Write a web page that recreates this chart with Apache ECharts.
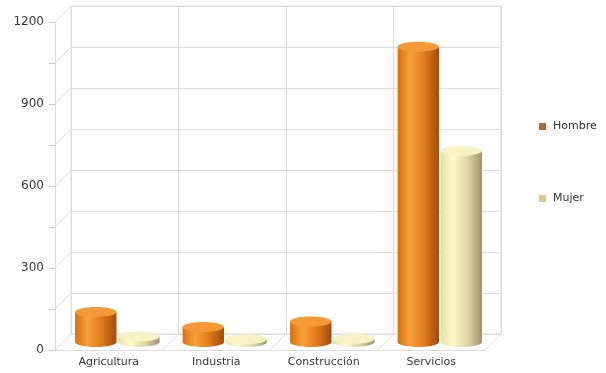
<!DOCTYPE html>
<html><head><meta charset="utf-8">
<script src="https://cdn.jsdelivr.net/npm/echarts@6/dist/echarts.min.js"></script>
<style>html,body{margin:0;padding:0;background:#fff}#c{width:606px;height:373px}</style>
</head><body><div id="c"></div>
<script>
const categories = ['Agricultura', 'Industria', 'Construcción', 'Servicios'];
const hombre = [110, 55, 75, 1080];
const mujer = [20, 10, 12, 700];
const yTickLabels = [0, 300, 600, 900, 1200];
const seriesNames = ['Hombre', 'Mujer'];

const W = 430, H = 328;
const front = {left: 55, top: 22};
const back = {left: 71, top: 6};
const mid = {left: 63, top: 14};
const DX = back.left - front.left, DY = back.top - front.top;
const LINE = '#dddddd';
const YMAX = 1200, YSTEP = 150;

const chart = echarts.init(document.getElementById('c'), null, {renderer: 'canvas'});

function cylinder(offsetFrac, stops, topFill) {
  return function (params, api) {
    const i = api.value(0), v = api.value(1);
    const base = api.coord([i, 0]);
    const top = api.coord([i, v]);
    const band = api.size([1, 0])[0];
    const w = band * 0.385, rx = w / 2, ry = 5;
    const cx = base[0] + offsetFrac * band;
    const grad = new echarts.graphic.LinearGradient(0, 0, 1, 0, stops);
    return {type: 'group', children: [
      {type: 'ellipse', shape: {cx: cx, cy: base[1], rx: rx, ry: ry}, style: {fill: grad}},
      {type: 'rect', shape: {x: cx - rx, y: top[1], width: w, height: base[1] - top[1]}, style: {fill: grad}},
      {type: 'ellipse', shape: {cx: cx, cy: top[1], rx: rx, ry: ry}, style: {fill: topFill}}
    ]};
  };
}

function frame(params, api) {
  const cs = params.coordSys;
  const children = [];
  for (let v = 0; v <= YMAX; v += YSTEP) {
    const p = api.coord([0, v]);
    children.push({type: 'line', shape: {x1: cs.x, y1: p[1], x2: cs.x + DX, y2: p[1] + DY}, style: {stroke: LINE, lineWidth: 1}});
  }
  const band = api.size([1, 0])[0];
  const yb = api.coord([0, 0])[1];
  for (let k = 0; k <= categories.length; k++) {
    const x = cs.x + k * band;
    children.push({type: 'line', shape: {x1: x, y1: yb, x2: x + DX, y2: yb + DY}, style: {stroke: LINE, lineWidth: 1}});
  }
  return {type: 'group', children: children};
}

const hombreStops = [
  {offset: 0, color: '#d8700f'}, {offset: 0.3, color: '#f7a03a'},
  {offset: 0.6, color: '#e67f1e'}, {offset: 1, color: '#a24b0b'}];
const mujerStops = [
  {offset: 0, color: '#e7e2a2'}, {offset: 0.3, color: '#fcf9cc'},
  {offset: 0.65, color: '#e0d6a4'}, {offset: 1, color: '#a09170'}];

const option = {
  animation: false,
  backgroundColor: '#ffffff',
  legend: {
    orient: 'vertical', left: 539, top: 121, itemGap: 61, padding: 0,
    itemWidth: 7, itemHeight: 7, icon: 'rect',
    textStyle: {fontSize: 11, color: '#333', fontFamily: 'DejaVu Sans', padding: [0, 0, 0, 2]},
    data: [{name: seriesNames[0], itemStyle: {color: '#b9622b'}}, {name: seriesNames[1], itemStyle: {color: '#d8c98c'}}]
  },
  grid: [
    {left: back.left, top: back.top, width: W, height: H, show: true, borderColor: LINE, borderWidth: 1, backgroundColor: 'transparent'},
    {left: front.left, top: front.top, width: W, height: H},
    {left: mid.left, top: mid.top, width: W, height: H}
  ],
  xAxis: [
    {type: 'category', gridIndex: 0, data: categories, axisLine: {show: false}, axisTick: {show: false}, axisLabel: {show: false},
      splitLine: {show: true, lineStyle: {color: LINE}}},
    {type: 'category', gridIndex: 1, data: categories, axisLine: {show: true, lineStyle: {color: LINE}}, axisTick: {show: false},
      axisLabel: {fontSize: 11, color: '#3a3a3a', fontFamily: 'DejaVu Sans', margin: 7}},
    {type: 'category', gridIndex: 2, data: categories, show: false}
  ],
  yAxis: [
    {type: 'value', gridIndex: 0, min: 0, max: YMAX, interval: YSTEP, axisLine: {show: false}, axisTick: {show: false}, axisLabel: {show: false},
      splitLine: {show: true, lineStyle: {color: LINE}}},
    {type: 'value', gridIndex: 1, min: 0, max: YMAX, interval: YSTEP, splitLine: {show: false},
      axisLine: {show: true, lineStyle: {color: LINE}}, axisTick: {show: true, length: 6, lineStyle: {color: '#cccccc'}},
      axisLabel: {fontSize: 12, color: '#3a3a3a', fontFamily: 'DejaVu Sans', margin: 11,
        formatter: function (v) { return yTickLabels.indexOf(v) >= 0 ? String(v) : ''; }}},
    {type: 'value', gridIndex: 2, min: 0, max: YMAX, show: false}
  ],
  series: [
    {type: 'custom', name: 'frame', xAxisIndex: 1, yAxisIndex: 1, data: [[0, 0]], renderItem: frame, silent: true, z: 1},
    {type: 'custom', name: seriesNames[0], xAxisIndex: 2, yAxisIndex: 2, itemStyle: {color: '#b9622b'},
      data: categories.map((c, i) => [i, hombre[i]]), encode: {x: 0, y: 1},
      renderItem: cylinder(-0.195, hombreStops, '#f39a36'), z: 5},
    {type: 'custom', name: seriesNames[1], xAxisIndex: 2, yAxisIndex: 2, itemStyle: {color: '#d8c98c'},
      data: categories.map((c, i) => [i, mujer[i]]), encode: {x: 0, y: 1},
      renderItem: cylinder(0.205, mujerStops, '#f6f2c4'), z: 5}
  ]
};
chart.setOption(option);
</script></body></html>
